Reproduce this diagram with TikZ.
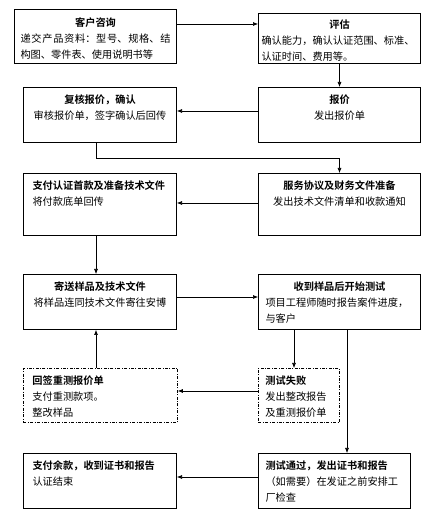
\documentclass[tikz,border=0pt]{standalone}
\usepackage{fontspec}
\setmainfont{Noto Sans CJK SC}[BoldFont={Noto Sans CJK SC Bold}]
\usetikzlibrary{arrows.meta}
\XeTeXlinebreaklocale "zh"
\XeTeXlinebreakskip=0pt plus 1pt
\newcommand{\stepbody}[3]{\parbox[t][#2][t]{#1}{\fontsize{10.2bp}{16bp}\selectfont #3}}

\tikzset{
  stepbox/.style={draw, line width=1bp, anchor=north west, inner xsep=7bp, inner ysep=7bp},
  retestbox/.style={stepbox, line width=0.8bp, dash pattern=on 3bp off 1.5bp on 0.8bp off 1.5bp},
  flow/.style={line width=0.6bp, -{Latex[length=5bp,width=4bp]}}
}

\begin{document}
\begin{tikzpicture}[x=1bp, y=1bp]
    \path[fill=white, use as bounding box] (0,0) rectangle (434,518);

    % Left column
    \node[stepbox, inner xsep=6bp, inner ysep=8bp] (b1) at (14,509) {\stepbody{150bp}{38bp}{{\centering\bfseries 客户咨询\par}递交产品资料：型号、规格、结\linebreak 构图、零件表、使用说明书等}};
    \node[stepbox] (b3) at (23,431) {\stepbody{139bp}{41bp}{\centering{\bfseries 复核报价，确认}\par 审核报价单，签字确认后回传}};
    \node[stepbox, inner xsep=9bp] (b5) at (23,345) {\stepbody{135bp}{48bp}{{\bfseries 支付认证首款及准备技术文件}\par 将付款底单回传}};
    \node[stepbox] (b7) at (23,244) {\stepbody{139bp}{41bp}{\centering{\bfseries 寄送样品及技术文件}\par 将样品连同技术文件寄往安博}};
    \node[retestbox, inner xsep=9bp] (b9) at (23,150) {\stepbody{136bp}{40bp}{{\bfseries 回签重测报价单}\par 支付重测款项。\par 整改样品}};
    \node[stepbox, inner xsep=9bp] (b11) at (23,65) {\stepbody{135bp}{41bp}{{\bfseries 支付余款，收到证书和报告}\par 认证结束}};

    % Right column
    \node[stepbox, inner xsep=3bp, inner ysep=6bp] (b2) at (258,505) {\stepbody{156bp}{38bp}{{\centering\bfseries 评估\par}确认能力，确认认证范围、标准、\\认证时间、费用等。}};
    \node[stepbox] (b4) at (258,431) {\stepbody{148bp}{41bp}{\centering{\bfseries 报价}\par 发出报价单}};
    \node[stepbox] (b6) at (258,345) {\stepbody{148bp}{48bp}{\centering{\bfseries 服务协议及财务文件准备}\par 发出技术文件清单和收款通知}};
    \node[stepbox] (b8) at (258,244) {\stepbody{148bp}{41bp}{{\centering\bfseries 收到样品后开始测试\par}项目工程师随时报告案件进度，\\与客户}};
    \node[retestbox] (b10) at (258,150) {\stepbody{67bp}{40bp}{{\bfseries 测试失败}\par 发出整改报告\par 及重测报价单}};
    \node[stepbox] (b12) at (258,65) {\stepbody{138bp}{41bp}{{\bfseries 测试通过，发出证书和报告}\par （如需要）在发证之前安排工\\厂检查}};

    % Connectors
    \coordinate (c12) at ([yshift=-15bp]b1.north east);
    \draw[flow] (c12) -- (c12 -| b2.west);
    \draw[flow] (b2.south) -- (b4.north);
    \coordinate (c43) at ([yshift=-24bp]b4.north west);
    \draw[flow] (c43) -- (c43 -| b3.east);
    \coordinate (c36) at ([xshift=73bp]b3.south west);
    \draw[flow] (c36) -- ++(0,-15) -| (b6.north);
    \coordinate (c65) at ([yshift=-30bp]b6.north west);
    \draw[flow] (c65) -- (c65 -| b5.east);
    \coordinate (c57) at ([xshift=73bp]b5.south west);
    \draw[flow] (c57) -- (c57 |- b7.north);
    \coordinate (c78) at ([yshift=-23bp]b7.north east);
    \draw[flow] (c78) -- (c78 -| b8.west);
    \coordinate (c810) at ([xshift=36bp]b8.south west);
    \draw[flow] (c810) -- (c810 |- b10.north);
    \coordinate (c812) at ([xshift=89bp]b8.south west);
    \draw[flow] (c812) -- (c812 |- b12.north);
    \coordinate (c109) at ([yshift=-23bp]b10.north west);
    \draw[flow] (c109) -- (c109 -| b9.east);
    \coordinate (c97) at ([xshift=73bp]b9.north west);
    \draw[flow] (c97) -- (c97 |- b7.south);
    \coordinate (c1211) at ([yshift=-24bp]b12.north west);
    \draw[flow] (c1211) -- (c1211 -| b11.east);
\end{tikzpicture}
\end{document}
